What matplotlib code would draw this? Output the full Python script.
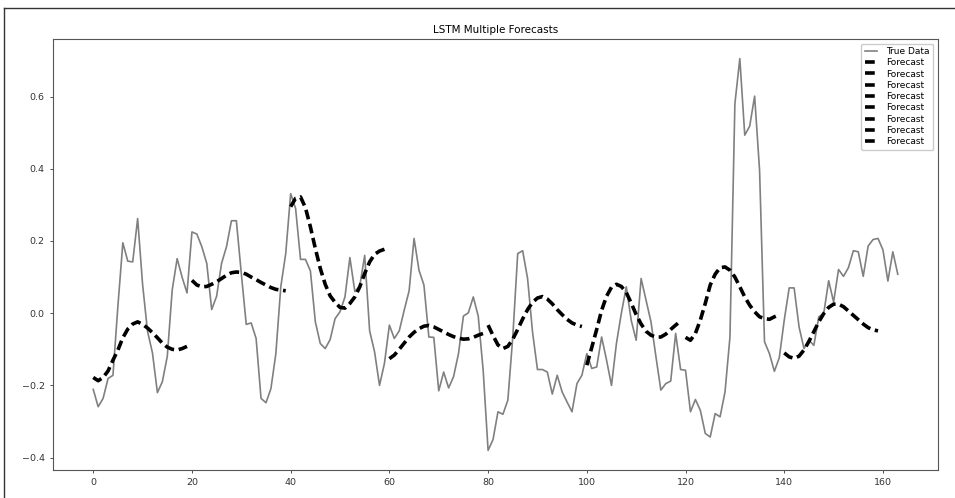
"""LSTM multiple forecasts plotted against the true series."""

import matplotlib

matplotlib.use("Agg")
import matplotlib.pyplot as plt
from matplotlib.lines import Line2D

# True series, one value per step (0..163)
true_data = [
    -0.211, -0.259, -0.236, -0.181, -0.172, 0.02, 0.195, 0.144, 0.142, 0.262,
    0.08, -0.05, -0.11, -0.22, -0.19, -0.12, 0.064, 0.151, 0.10, 0.056,
    0.225, 0.219, 0.184, 0.138, 0.010, 0.047, 0.138, 0.184, 0.256, 0.256,
    0.11, -0.031, -0.027, -0.07, -0.236, -0.248, -0.209, -0.112, 0.073, 0.165,
    0.331, 0.29, 0.149, 0.149, 0.117, -0.024, -0.084, -0.098, -0.073, -0.015,
    0.004, 0.045, 0.154, 0.06, 0.075, 0.16, -0.049, -0.107, -0.2, -0.139,
    -0.033, -0.07, -0.049, 0.008, 0.062, 0.207, 0.119, 0.078, -0.066, -0.067,
    -0.215, -0.163, -0.207, -0.176, -0.112, -0.008, 0.001, 0.045, -0.008, -0.158,
    -0.38, -0.35, -0.273, -0.28, -0.241, -0.066, 0.165, 0.173, 0.096, -0.052,
    -0.156, -0.156, -0.163, -0.224, -0.172, -0.218, -0.246, -0.273, -0.195, -0.172,
    -0.112, -0.153, -0.149, -0.066, -0.13, -0.2, -0.084, 0.0, 0.073, -0.02,
    -0.075, 0.096, 0.036, -0.024, -0.12, -0.213, -0.195, -0.188, -0.056, -0.156,
    -0.158, -0.273, -0.239, -0.269, -0.333, -0.343, -0.278, -0.287, -0.218, -0.066,
    0.58, 0.705, 0.493, 0.518, 0.601, 0.396, -0.079, -0.112, -0.161, -0.123,
    -0.019, 0.07, 0.07, -0.038, -0.098, -0.075, -0.089, -0.01, -0.001, 0.09,
    0.031, 0.121, 0.102, 0.126, 0.173, 0.17, 0.102, 0.186, 0.204, 0.207,
    0.175, 0.089, 0.17, 0.108,
]

# Each forecast covers 20 steps, starting at 0, 20, 40, ...
forecast_len = 20
forecasts = [
    [-0.178, -0.187, -0.178, -0.160, -0.130, -0.102, -0.068, -0.044, -0.030, -0.024,
     -0.031, -0.041, -0.054, -0.068, -0.083, -0.094, -0.100, -0.102, -0.098, -0.092],
    [0.091, 0.078, 0.073, 0.074, 0.080, 0.087, 0.096, 0.105, 0.112, 0.114,
     0.113, 0.108, 0.100, 0.093, 0.085, 0.078, 0.071, 0.066, 0.064, 0.062],
    [0.295, 0.318, 0.322, 0.292, 0.239, 0.179, 0.124, 0.080, 0.048, 0.030,
     0.016, 0.014, 0.027, 0.045, 0.073, 0.110, 0.142, 0.163, 0.172, 0.177],
    [-0.126, -0.116, -0.100, -0.083, -0.066, -0.053, -0.043, -0.036, -0.034, -0.038,
     -0.045, -0.052, -0.059, -0.065, -0.069, -0.072, -0.071, -0.067, -0.061, -0.056],
    [-0.033, -0.062, -0.088, -0.098, -0.092, -0.072, -0.045, -0.016, 0.010, 0.030,
     0.042, 0.046, 0.039, 0.026, 0.010, -0.004, -0.017, -0.027, -0.033, -0.037],
    [-0.144, -0.095, -0.045, 0.008, 0.047, 0.072, 0.080, 0.074, 0.057, 0.028,
     -0.004, -0.030, -0.050, -0.061, -0.066, -0.066, -0.058, -0.045, -0.033, -0.022],
    [-0.067, -0.075, -0.056, -0.019, 0.027, 0.078, 0.108, 0.126, 0.128, 0.119,
     0.100, 0.073, 0.045, 0.022, 0.004, -0.010, -0.015, -0.017, -0.010, -0.004],
    [-0.110, -0.121, -0.125, -0.119, -0.102, -0.078, -0.051, -0.024, -0.001, 0.016,
     0.025, 0.025, 0.018, 0.006, -0.006, -0.018, -0.030, -0.040, -0.046, -0.049],
]


def main():
    fig = plt.figure(figsize=(9.55, 4.98), dpi=100)
    ax = fig.add_axes([53 / 955, 1 - 470 / 498, (938 - 53) / 955, (470 - 39) / 498])

    ax.plot(range(len(true_data)), true_data, color="gray", linewidth=1.2, label="True Data")
    for k, values in enumerate(forecasts):
        start = k * forecast_len
        xs = range(start, start + len(values))
        ax.plot(xs, values, color="black", linewidth=2.6, dashes=(2.7, 1.3), label="Forecast")

    ax.set_title("LSTM Multiple Forecasts", fontsize=7.5, pad=4)
    ax.set_yticks([-0.4, -0.2, 0.0, 0.2, 0.4, 0.6])
    ax.tick_params(labelsize=6.8, length=2.5, width=0.6, colors="#333333")
    for spine in ax.spines.values():
        spine.set_color("#555555")
        spine.set_linewidth(0.8)

    ax.legend(loc="upper right", fontsize=6.5, handlelength=1.4, labelspacing=0.25,
              borderpad=0.4, handletextpad=1.0, framealpha=1, edgecolor="#cccccc")

    # screenshot frame around the figure
    frame_color = "#333333"
    fig.add_artist(Line2D([4 / 955, 1.0], [1 - 8 / 498, 1 - 8 / 498],
                          transform=fig.transFigure, color=frame_color, linewidth=1.0))
    fig.add_artist(Line2D([4 / 955, 4 / 955], [0.0, 1 - 8 / 498],
                          transform=fig.transFigure, color=frame_color, linewidth=1.0))

    fig.savefig("out.png", dpi=100)


if __name__ == "__main__":
    main()
